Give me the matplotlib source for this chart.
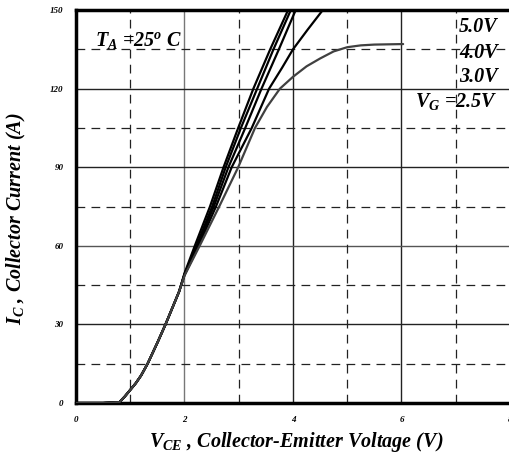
import matplotlib
matplotlib.use("Agg")
import matplotlib.pyplot as plt

plt.rcParams['mathtext.fontset'] = 'custom'
plt.rcParams['mathtext.it'] = 'Liberation Serif:italic:bold'
plt.rcParams['mathtext.rm'] = 'Liberation Serif:bold'
plt.rcParams['mathtext.bf'] = 'Liberation Serif:italic:bold'

# Shared low-voltage part (all curves overlap)
v_common = [0.0, 0.5, 0.8, 0.9, 1.0, 1.1, 1.2, 1.32, 1.5, 1.65, 1.8, 1.9]
i_common = [0.0, 0.0, 0.3, 2.5, 5.0, 7.5, 10.5, 15.0, 23.0, 30.0, 37.5, 42.5]

# Upper parts of the individual gate-voltage curves
v_a = [2.0, 2.19, 2.47, 2.72, 2.99, 3.27, 3.58, 3.91]
i_a = [49.5, 60, 75, 90, 105, 120, 135, 150]
v_b = [2.0, 2.22, 2.51, 2.76, 3.04, 3.34, 3.64, 3.96]
i_b = [49.2, 60, 75, 90, 105, 120, 135, 150]
v_c = [2.0, 2.24, 2.54, 2.81, 3.12, 3.42, 3.74, 4.05]
i_c = [49.0, 60, 75, 90, 105, 120, 135, 150]
v_d = [2.0, 2.26, 2.58, 2.87, 3.24, 3.56, 3.8, 4.0, 4.27, 4.55]
i_d = [48.8, 60, 75, 90, 105, 120, 128, 135, 142.5, 150]
v_e = [2.0, 2.28, 2.64, 2.99, 3.30, 3.52, 3.76, 4.0, 4.25, 4.5, 4.75, 5.0, 5.25, 5.5, 6.03]
i_e = [48.6, 60, 75, 90, 105, 113, 120, 124.5, 128.5, 131.5, 134.2, 135.8, 136.5, 136.8, 137.0]

x_ticks = [0, 2, 4, 6, 8]
y_ticks = [0, 30, 60, 90, 120, 150]
x_dash = [1, 3, 5, 7]
y_dash = [15, 45, 75, 105, 135]

gate_labels = ["5.0V", "4.0V", "3.0V"]
gate_label_y = [143.5, 133.6, 124.4]

serif = "Liberation Serif"

fig = plt.figure(figsize=(5.10, 4.62), dpi=100)
ax = fig.add_axes([76/510, 59/462, 1 - 76/510, 393/462])
ax.set_xlim(0, 8)
ax.set_ylim(0, 150)

# grid
for x in x_ticks[1:-1]:
    ax.axvline(x, color="#222222" if x != 2 else "#777777", lw=1.0, zorder=1)
for y in y_ticks[1:-1]:
    ax.axhline(y, color="#222222" if y != 60 else "#555555", lw=1.0, zorder=1)
for x in x_dash:
    ax.axvline(x, color="#222222", lw=0.9, dashes=(7, 5), zorder=1)
for y in y_dash:
    ax.axhline(y, color="#222222", lw=0.9, dashes=(7, 5), zorder=1)

curves = [(v_a, i_a, "black"), (v_b, i_b, "black"), (v_c, i_c, "black"),
          (v_d, i_d, "black"), (v_e, i_e, "#404040")]
for vv, ii, col in curves:
    ax.plot(v_common + vv, i_common + ii, color=col, lw=1.6, zorder=3,
            solid_joinstyle="round", solid_capstyle="round")

for s in ["left", "top", "bottom"]:
    ax.spines[s].set_linewidth(2.5)
ax.spines["right"].set_visible(False)

ax.set_xticks(x_ticks)
ax.set_yticks(y_ticks)
ax.tick_params(length=0, pad=9)
for lab in ax.get_xticklabels() + ax.get_yticklabels():
    lab.set_fontfamily(serif)
    lab.set_fontstyle("italic")
    lab.set_fontweight("bold")
    lab.set_fontsize(6.5)

ax.set_xlabel(r"$V_{CE}$ , Collector-Emitter Voltage (V)", fontfamily=serif,
              fontstyle="italic", fontweight="bold", fontsize=14.5)
ax.set_ylabel(r"$I_{C}$ , Collector Current (A)", fontfamily=serif,
              fontstyle="italic", fontweight="bold", fontsize=14.5)
ax.xaxis.set_label_coords(0.508, -0.068)
ax.yaxis.set_label_coords(-0.11, 0.47)

txt = dict(fontfamily=serif, fontstyle="italic", fontweight="bold", fontsize=14.5, zorder=5)
ax.text(0.35, 138.5, r"$T_{A}$ =25$^{o}$ C", va="center", ha="left", **txt)
for lab, y in zip(gate_labels, gate_label_y):
    ax.text(7.06, y, lab, va="center", ha="left", **txt)
ax.text(7.77, 114.9, r"$V_{G}$ =2.5V", va="center", ha="right", **txt)

fig.savefig("out.png", dpi=100)
